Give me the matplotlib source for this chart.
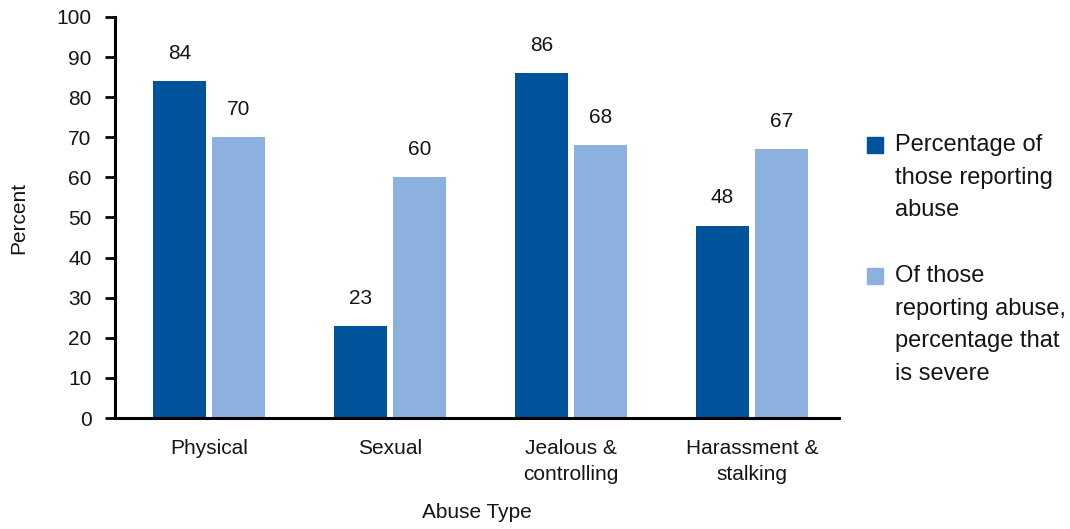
import matplotlib.pyplot as plt
import numpy as np
from matplotlib.patches import Rectangle

plt.rcParams['font.family'] = ['Liberation Sans', 'DejaVu Sans']

# abuse types and the two percentage series
categories = ['Physical', 'Sexual', 'Jealous &\ncontrolling', 'Harassment &\nstalking']
reporting = [84, 23, 86, 48]
severe = [70, 60, 68, 67]
series_names = ['Percentage of\nthose reporting\nabuse',
                'Of those\nreporting abuse,\npercentage that\nis severe']
yticks = list(range(0, 101, 10))

dark = '#00529b'
light = '#8db1de'
txt = '#151515'

fig = plt.figure(figsize=(10.7, 5.29), dpi=100)
ax = fig.add_axes([0.1075, 0.2098, 0.6766, 0.7581])

x = np.arange(len(categories))
w = 0.293
off = 0.163
b1 = ax.bar(x - off, reporting, w, color=dark)
b2 = ax.bar(x + off, severe, w, color=light)

# value labels above each bar
for bars, vals in ((b1, reporting), (b2, severe)):
    for r, v in zip(bars, vals):
        ax.annotate(str(v), (r.get_x() + r.get_width() / 2, v),
                    xytext=(0, 13), textcoords='offset points',
                    ha='center', va='bottom', fontsize=15, color=txt)

ax.set_xlim(-0.52, 3.48)
ax.set_ylim(0, 100)
ax.set_yticks(yticks)
ax.set_xticks(x)
ax.set_xticklabels(categories, fontsize=15, linespacing=1.45, color=txt)
ax.tick_params(axis='y', labelsize=15, length=7, width=2, pad=10, labelcolor=txt)
ax.tick_params(axis='x', length=0, pad=15)
for s in ('top', 'right'):
    ax.spines[s].set_visible(False)
for s in ('left', 'bottom'):
    ax.spines[s].set_linewidth(2.2)

ax.set_ylabel('Percent', fontsize=15, labelpad=20, color=txt)
ax.set_xlabel('Abuse Type', fontsize=15, labelpad=14, color=txt)

# legend drawn by hand so the swatch sits beside the first line
W, H = 1070, 529
for (ytop, color, label) in ((137, dark, series_names[0]),
                             (268, light, series_names[1])):
    fig.add_artist(Rectangle((867 / W, 1 - (ytop + 16) / H), 16 / W, 16 / H,
                             transform=fig.transFigure, color=color))
    fig.text(895 / W, 1 - (ytop - 3) / H, label, fontsize=17,
             va='top', ha='left', linespacing=1.62, color=txt)

plt.savefig('out.png')
